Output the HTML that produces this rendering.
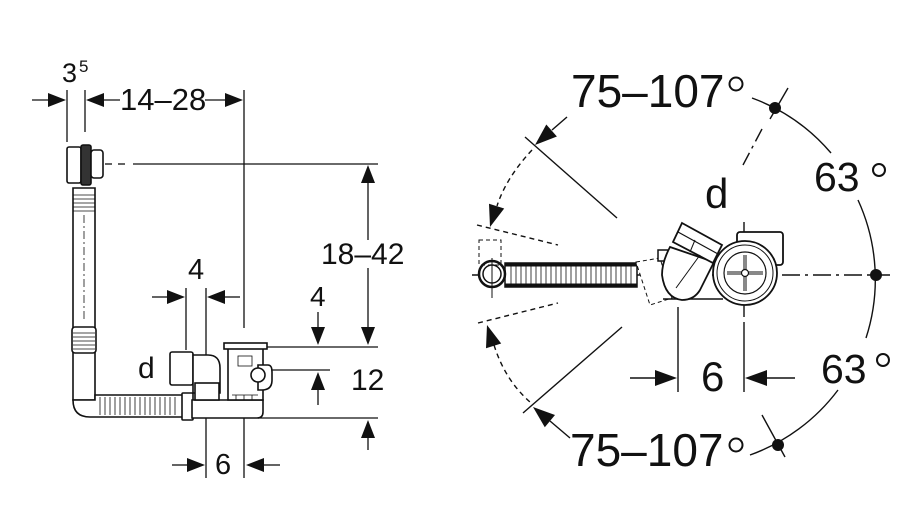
<!DOCTYPE html>
<html><head><meta charset="utf-8"><style>
html,body{margin:0;padding:0;background:#fff;width:916px;height:509px;overflow:hidden}
svg{display:block}
text{font-family:"Liberation Sans",Arial,sans-serif;fill:#111}
</style></head><body>
<svg width="916" height="509" viewBox="0 0 916 509" xmlns="http://www.w3.org/2000/svg">
<g stroke="#111" stroke-width="1.3" fill="none">
<line x1="32" y1="100" x2="50" y2="100"/>
<line x1="102" y1="100" x2="120" y2="100"/>
<line x1="205" y1="100" x2="227" y2="100"/>
<line x1="67" y1="90" x2="67" y2="142"/>
<line x1="85" y1="90" x2="85" y2="132"/>
<line x1="244" y1="90" x2="244" y2="328"/>
<line x1="105" y1="164" x2="112" y2="164"/><line x1="118" y1="164" x2="125" y2="164"/>
<line x1="133" y1="164" x2="378" y2="164"/>
<line x1="368" y1="183" x2="368" y2="240"/>
<line x1="368" y1="268" x2="368" y2="327"/>
<line x1="265" y1="347" x2="378" y2="347"/>
<line x1="272" y1="370" x2="330" y2="370"/>
<line x1="258" y1="418" x2="378" y2="418"/>
<line x1="318" y1="312" x2="318" y2="327"/>
<line x1="318" y1="390" x2="318" y2="405"/>
<line x1="368" y1="438" x2="368" y2="450"/>
<line x1="152" y1="297" x2="167" y2="297"/>
<line x1="225" y1="297" x2="240" y2="297"/>
<line x1="186" y1="288" x2="186" y2="350"/>
<line x1="206" y1="288" x2="206" y2="478"/>
<line x1="172" y1="465" x2="187" y2="465"/>
<line x1="264" y1="465" x2="280" y2="465"/>
<line x1="244" y1="395" x2="244" y2="478"/>
</g>
<g fill="#111">
<polygon points="66,100 48,93 48,107"/>
<polygon points="86,100 104,93 104,107"/>
<polygon points="243,100 225,93 225,107"/>
<polygon points="368,165 361,183 375,183"/>
<polygon points="368,345 361,327 375,327"/>
<polygon points="318,345 311,327 325,327"/>
<polygon points="318,372 311,390 325,390"/>
<polygon points="368,420 361,438 375,438"/>
<polygon points="185,297 167,290 167,304"/>
<polygon points="207,297 225,290 225,304"/>
<polygon points="205,465 187,458 187,472"/>
<polygon points="246,465 264,458 264,472"/>
</g>
<g stroke="#111" stroke-width="1.6" fill="#fff">
<rect x="67" y="147" width="14" height="36" rx="2"/>
<rect x="81" y="145" width="10" height="40" rx="2" fill="#333"/>
<rect x="91" y="150" width="12" height="28" rx="3"/>
<path d="M73,188 L95,188 L95,400 L73,400 Z"/>
<rect x="72" y="327" width="24" height="26" rx="3"/>
<path d="M73,400 Q73,417 90,417 L183,417 L183,395 L95,395 L95,400 Z"/>
<rect x="182" y="393" width="11" height="27" rx="1"/>
<path d="M192,400 L263,400 L263,412 Q263,418 257,418 L192,418 Z"/>
<rect x="170" y="352" width="23" height="33" rx="2"/>
<path d="M193,355 L208,355 Q220,355 220,368 L220,393 L193,393 Z"/>
<rect x="195" y="383" width="24" height="17"/>
<rect x="228" y="345" width="35" height="55"/>
<rect x="224" y="343" width="43" height="6"/>
<path d="M258,365 L268,365 Q272,365 272,372 L272,380 Q272,390 262,390 L258,390 Z"/>
<circle cx="258" cy="375" r="7"/>
</g>
<g stroke="#111" stroke-width="0.8">
<path d="M73,195 H95 M73,199 H95 M73,203 H95 M73,207 H95 M73,211 H95 M73,333 H95 M73,337 H95 M73,341 H95 M73,345 H95 M73,349 H95"/>
<path d="M100,397 V415 M105,397 V415 M110,397 V415 M115,397 V415 M120,397 V415 M125,397 V415 M130,397 V415 M135,397 V415 M140,397 V415 M145,397 V415 M150,397 V415 M155,397 V415 M160,397 V415 M165,397 V415 M170,397 V415 M175,397 V415"/>
<path d="M84,215 V320" stroke-dasharray="8,3,2,3"/>
<rect x="238" y="356" width="14" height="10" fill="none"/>
<path d="M232,395 H258 M236,395 V400 M244,395 V400 M252,395 V400"/>
</g>
<text x="62" y="82" font-size="27">3</text>
<text x="79" y="72" font-size="17">5</text>
<text x="120" y="110" font-size="31">14–28</text>
<text x="321" y="264" font-size="30">18–42</text>
<text x="188" y="279" font-size="29">4</text>
<text x="310" y="306" font-size="28">4</text>
<text x="351" y="390" font-size="30">12</text>
<text x="138" y="378" font-size="30">d</text>
<text x="215" y="474" font-size="29">6</text>

<g stroke="#111" stroke-width="1.4" fill="none">
<path d="M752,98 A190,190 0 0 1 831,153"/>
<path d="M858,200 A190,190 0 0 1 866,338"/>
<path d="M838,390 A190,190 0 0 1 750,455"/>
<line x1="788" y1="88" x2="770" y2="119"/>
<line x1="762" y1="129" x2="743" y2="165" stroke-dasharray="14,5,3,5"/>
<line x1="762" y1="415" x2="785" y2="457"/>
<line x1="472" y1="275" x2="890" y2="275" stroke-dasharray="18,5,3,5"/>
<line x1="525" y1="137" x2="617" y2="218"/>
<line x1="523" y1="413" x2="622" y2="327"/>
<line x1="567" y1="117" x2="552" y2="130"/>
<line x1="570" y1="438" x2="550" y2="421"/>
<path d="M532,150 Q506,178 497,206" stroke-dasharray="5,4"/>
<path d="M494,345 Q505,380 530,402" stroke-dasharray="5,4"/>
<line x1="477" y1="225" x2="558" y2="245" stroke-dasharray="5,4"/>
<line x1="478" y1="323" x2="558" y2="303" stroke-dasharray="5,4"/>
<line x1="630" y1="378" x2="655" y2="378"/>
<line x1="767" y1="378" x2="795" y2="378"/>
<line x1="678" y1="307" x2="678" y2="392"/>
<line x1="744" y1="325" x2="744" y2="392"/>
<line x1="744" y1="222" x2="744" y2="325" stroke-dasharray="14,5,3,5"/>
<circle cx="736" cy="84" r="6.5" stroke-width="2"/>
<circle cx="736" cy="445" r="6.5" stroke-width="2"/>
<circle cx="879" cy="170" r="6" stroke-width="2"/>
<circle cx="883" cy="360" r="6" stroke-width="2"/>
</g>
<g fill="#111">
<circle cx="775" cy="108" r="6"/>
<circle cx="876" cy="275" r="6"/>
<circle cx="778" cy="445" r="6"/>
<polygon points="535,145 556.9,136.5 546.3,124.5"/>
<polygon points="490,227 504.2,208.5 489,203.7"/>
<polygon points="487,325 501.2,343.5 486,348.3"/>
<polygon points="533,407 555,415 544.8,427.2"/>
<polygon points="677,378 655,370 655,386"/>
<polygon points="745,378 767,370 767,386"/>
</g>
<g stroke="#111" fill="#fff">
<rect x="505" y="263" width="132" height="24" stroke-width="1.5"/>
<line x1="505" y1="265" x2="637" y2="265" stroke-width="3"/>
<line x1="505" y1="285" x2="637" y2="285" stroke-width="3"/>
<path d="M511,263V287M516,263V287M521,263V287M526,263V287M531,263V287M536,263V287M541,263V287M546,263V287M551,263V287M556,263V287M561,263V287M566,263V287M571,263V287M576,263V287M581,263V287M586,263V287M591,263V287M596,263V287M601,263V287M606,263V287M611,263V287M616,263V287M621,263V287M626,263V287M631,263V287" stroke-width="0.8"/>
<circle cx="492" cy="274" r="13" stroke-width="2.5"/>
<circle cx="492" cy="274" r="9" stroke-width="1.5"/>
<line x1="492" y1="258" x2="492" y2="298" stroke-width="1"/>
<rect x="479" y="240" width="22" height="25" fill="none" stroke-dasharray="4,3" stroke-width="1"/>
<path d="M636,262 L660,258 L672,298 L650,305 Z" fill="#fff" stroke-dasharray="4,3" stroke-width="1"/>
<rect x="658" y="250" width="12" height="11" stroke-width="1.5"/>
<path d="M663,299 L723,299" stroke-width="1.5"/>
<rect x="737" y="232" width="46" height="33" rx="3" stroke-width="1.8"/>
<path d="M670,247 Q662,262 662,275 Q665,298 682,300 Q694,300 700,290 L714,262 Z" stroke-width="1.8"/>
<path d="M682,223 L722,245 L713,263 L673,242 Z" stroke-width="1.8"/>
<line x1="678" y1="232" x2="718" y2="254" stroke-width="1.2"/>
<line x1="695" y1="240" x2="690" y2="252" stroke-width="1"/>
<line x1="700" y1="255" x2="676" y2="288" stroke-width="1"/>
<circle cx="745" cy="273" r="32" stroke-width="1.8"/>
<circle cx="745" cy="273" r="28" stroke-width="1"/>
<circle cx="745" cy="273" r="21" stroke-width="1.2"/>
<path d="M727,273 H763 M745,255 V291" stroke-width="3"/>
<path d="M727,273 H763 M745,255 V291" stroke="#fff" stroke-width="1"/>
<circle cx="745" cy="273" r="3.5" stroke-width="1.2"/>
</g>
<text x="571" y="107" font-size="46">75–107</text>
<text x="570" y="466" font-size="46">75–107</text>
<text x="814" y="191" font-size="41">63</text>
<text x="821" y="383" font-size="41">63</text>
<text x="705" y="208" font-size="42">d</text>
<text x="701" y="391" font-size="42">6</text>
</svg>
</body></html>
